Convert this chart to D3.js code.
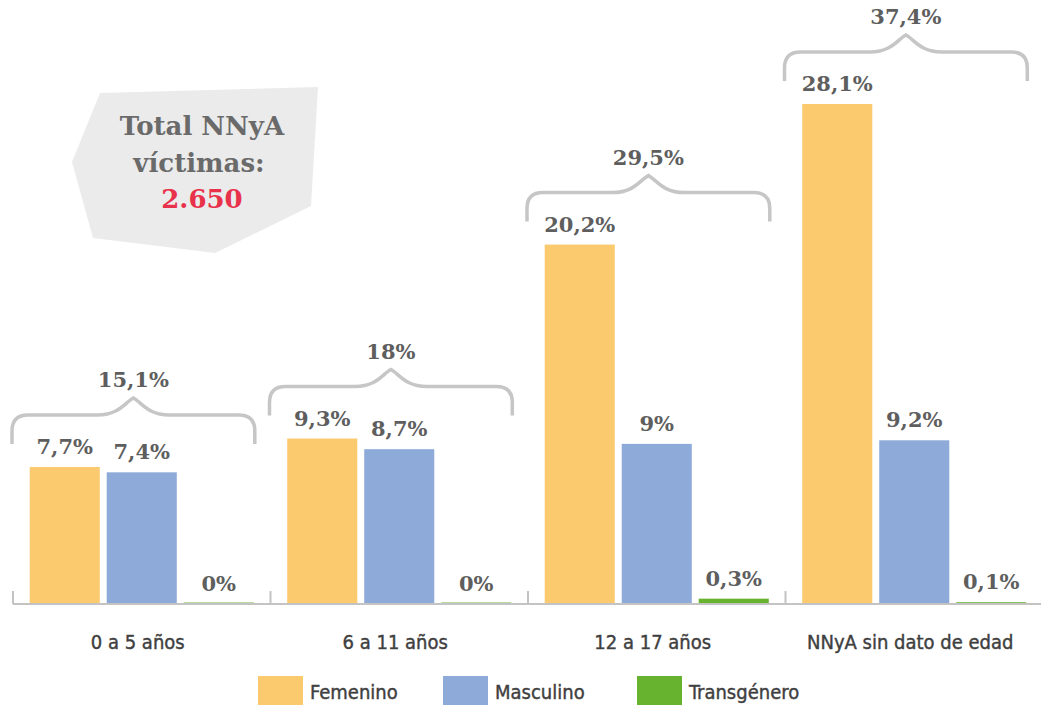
<!DOCTYPE html>
<html>
<head>
<meta charset="utf-8">
<script src="https://cdn.jsdelivr.net/npm/d3@7"></script>
<style>
  body { margin: 0; background: #fff; }
  svg { display: block; }
</style>
</head>
<body>
<svg id="chart"></svg>
<script>
// data
const categories = ["0 a 5 años", "6 a 11 años", "12 a 17 años", "NNyA sin dato de edad"];
const series = ["Femenino", "Masculino", "Transgénero"];
const femenino = [7.7, 9.3, 20.2, 28.1];
const masculino = [7.4, 8.7, 9.0, 9.2];
const transgenero = [0, 0, 0.3, 0.1];
const totalVictims = 2650;

const COLORS = { "Femenino": "#fbca6e", "Masculino": "#8eaad9", "Transgénero": "#67b22f" };
const W = 1041, H = 705;
const BASE_Y = 604;

const locale = d3.formatLocale({ decimal: ",", thousands: ".", grouping: [3], currency: ["$", ""] });
const pct = v => locale.format(".1~f")(v) + "%";
const intFmt = locale.format(",d");

const values = { "Femenino": femenino, "Masculino": masculino, "Transgénero": transgenero };
const rows = categories.map((c, i) => ({
  cat: c,
  vals: series.map(s => ({ key: s, value: values[s][i] })),
  total: d3.sum(series, s => values[s][i])
}));

const svg = d3.select("#chart").attr("width", W).attr("height", H);

const x0 = d3.scaleBand().domain(categories).range([13, 1043]).paddingInner(0).paddingOuter(0);
const x1 = d3.scaleBand().domain(series).range([0, x0.bandwidth()]).paddingInner(0.09).paddingOuter(0.217);
const y = d3.scaleLinear().domain([0, 28.1]).range([BASE_Y, 104]);

const slab = "'DejaVu Serif', serif";
const cond = "'DejaVu Sans Condensed', 'DejaVu Sans', sans-serif";

// callout box
const callout = svg.append("g");
callout.append("polygon")
  .attr("points", "100,93 318,87 311,206 215,253 93,238 72,162")
  .attr("fill", "#ebebeb");
callout.append("text").attr("x", 202).attr("y", 135).text("Total NNyA");
callout.append("text").attr("x", 199).attr("y", 172).text("víctimas:");
callout.append("text").attr("x", 202).attr("y", 208).attr("fill", "#e8314a").text(intFmt(totalVictims));
callout.selectAll("text")
  .attr("text-anchor", "middle")
  .attr("font-family", slab)
  .attr("font-weight", "bold")
  .attr("font-size", 26)
  .filter(function () { return !this.getAttribute("fill"); })
  .attr("fill", "#6a6a6a");

// bars
const groups = svg.selectAll("g.grp")
  .data(rows)
  .join("g")
  .attr("class", "grp")
  .attr("transform", d => `translate(${x0(d.cat)},0)`);

groups.selectAll("rect")
  .data(d => d.vals)
  .join("rect")
  .attr("x", d => x1(d.key))
  .attr("width", x1.bandwidth())
  .attr("y", d => y(d.value))
  .attr("height", d => BASE_Y - y(d.value))
  .attr("fill", d => COLORS[d.key]);

// faint line for zero bars
groups.selectAll("line.zero")
  .data(d => d.vals.filter(v => v.value === 0))
  .join("line")
  .attr("class", "zero")
  .attr("x1", d => x1(d.key))
  .attr("x2", d => x1(d.key) + x1.bandwidth())
  .attr("y1", BASE_Y - 1.5)
  .attr("y2", BASE_Y - 1.5)
  .attr("stroke", "#b9d9a0")
  .attr("stroke-width", 1);

groups.selectAll("text.val")
  .data(d => d.vals)
  .join("text")
  .attr("class", "val")
  .attr("x", d => x1(d.key) + x1.bandwidth() / 2)
  .attr("y", d => y(d.value) - 13)
  .attr("text-anchor", "middle")
  .attr("font-family", slab)
  .attr("font-weight", "bold")
  .attr("font-size", 21)
  .attr("fill", "#5e5e5e")
  .text(d => pct(d.value));

// braces with group totals
function bracePath(xa, xb, ym) {
  const yEnd = ym - 23, yH = ym - 52, yPeak = ym - 69, r = 16;
  const xm = (xa + xb) / 2;
  return `M${xa},${yEnd} L${xa},${yH + r} Q${xa},${yH} ${xa + r},${yH} L${xm - 36},${yH}`
    + ` C${xm - 14},${yH} ${xm - 8},${yPeak + 4} ${xm},${yPeak}`
    + ` C${xm + 8},${yPeak + 4} ${xm + 14},${yH} ${xm + 36},${yH}`
    + ` L${xb - r},${yH} Q${xb},${yH} ${xb},${yH + r} L${xb},${yEnd}`;
}

groups.each(function (d) {
  const g = d3.select(this);
  const xa = -1;
  const xb = x1("Transgénero") + x1.bandwidth() + 1;
  const ym = y(d3.max(d.vals, v => v.value));
  g.append("path")
    .attr("d", bracePath(xa, xb, ym))
    .attr("fill", "none")
    .attr("stroke", "#c6c6c6")
    .attr("stroke-width", 3.5);
  g.append("text")
    .attr("x", (xa + xb) / 2)
    .attr("y", ym - 80)
    .attr("text-anchor", "middle")
    .attr("font-family", slab)
    .attr("font-weight", "bold")
    .attr("font-size", 21)
    .attr("fill", "#5e5e5e")
    .text(pct(d.total));
});

// axis
const axis = svg.append("g").attr("stroke", "#c3c3c3").attr("stroke-width", 2);
axis.append("line").attr("x1", 13).attr("x2", W).attr("y1", BASE_Y).attr("y2", BASE_Y);
axis.selectAll("line.tick")
  .data(categories.map(c => x0(c)).concat([x0.range()[1]]))
  .join("line")
  .attr("class", "tick")
  .attr("x1", d => d).attr("x2", d => d)
  .attr("y1", BASE_Y - 13).attr("y2", BASE_Y);

svg.append("g").selectAll("text")
  .data(categories)
  .join("text")
  .attr("x", d => x0(d) + x0.bandwidth() / 2 - 4)
  .attr("y", 649)
  .attr("text-anchor", "middle")
  .attr("font-family", cond)
  .attr("font-size", 20)
  .attr("fill", "#3f3f3f")
  .attr("stroke", "#3f3f3f")
  .attr("stroke-width", 0.4)
  .text(d => d);

// legend
const legendX = [258, 443, 637];
const legend = svg.append("g").selectAll("g")
  .data(series)
  .join("g")
  .attr("transform", (d, i) => `translate(${legendX[i]},676)`);
legend.append("rect")
  .attr("width", 45).attr("height", 30)
  .attr("fill", d => COLORS[d]);
legend.append("text")
  .attr("x", 52).attr("y", 23)
  .attr("font-family", cond)
  .attr("font-size", 20)
  .attr("fill", "#3f3f3f")
  .attr("stroke", "#3f3f3f")
  .attr("stroke-width", 0.4)
  .text(d => d);
</script>
</body>
</html>
